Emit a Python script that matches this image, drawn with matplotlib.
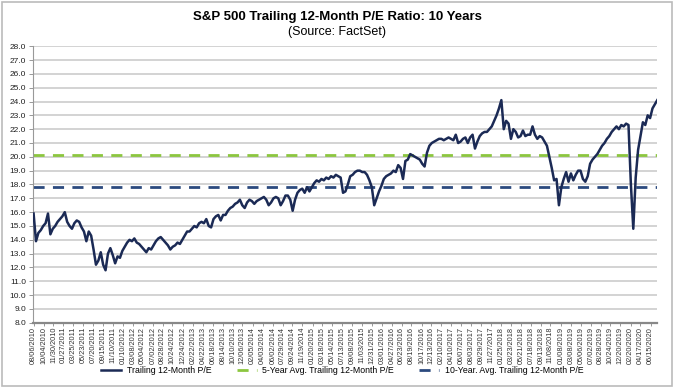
import matplotlib
matplotlib.use("Agg")
import matplotlib.pyplot as plt
import matplotlib.patches as mpatches
import pandas as pd

plt.rcParams["font.family"] = ["Liberation Sans", "DejaVu Sans"]

# trailing 12-month P/E, read every 14 days starting 2010-08-06
start_date = "2010-08-06"
pe = [
    15.9, 13.9, 14.5, 14.7, 15.0, 15.2, 15.9, 14.4, 14.8, 15.0,
    15.3, 15.5, 15.7, 16.0, 15.3, 15.0, 14.8, 15.2, 15.4, 15.3,
    14.9, 14.6, 13.9, 14.6, 14.3, 13.3, 12.2, 12.5, 13.1, 12.2,
    11.8, 13.0, 13.4, 12.9, 12.3, 12.8, 12.7, 13.2, 13.5, 13.8,
    14.0, 13.9, 14.1, 13.8, 13.7, 13.5, 13.3, 13.1, 13.4, 13.3,
    13.6, 13.9, 14.1, 14.2, 14.0, 13.8, 13.6, 13.3, 13.5, 13.6,
    13.8, 13.7, 14.0, 14.3, 14.6, 14.6, 14.8, 15.0, 14.9, 15.2,
    15.3, 15.2, 15.5, 15.0, 14.9, 15.5, 15.7, 15.8, 15.4, 15.8,
    15.8, 16.1, 16.3, 16.4, 16.6, 16.7, 16.9, 16.5, 16.3, 16.7,
    16.9, 16.8, 16.6, 16.8, 16.9, 17.0, 17.1, 16.9, 16.5, 16.7,
    17.0, 17.1, 17.0, 16.5, 16.8, 17.2, 17.2, 16.9, 16.1, 16.9,
    17.4, 17.6, 17.7, 17.4, 17.8, 17.5, 17.8, 18.1, 18.3, 18.2,
    18.4, 18.3, 18.5, 18.4, 18.6, 18.5, 18.7, 18.6, 18.5, 17.4,
    17.5, 18.0, 18.6, 18.7, 18.9, 19.0, 19.0, 18.9, 18.9, 18.7,
    18.3, 17.8, 16.5, 17.0, 17.5, 17.9, 18.4, 18.6, 18.7, 18.8,
    19.0, 18.9, 19.4, 19.2, 18.4, 19.7, 19.8, 20.2, 20.1, 20.0,
    19.9, 19.8, 19.5, 19.3, 20.3, 20.8, 21.0, 21.1, 21.2, 21.3,
    21.3, 21.2, 21.3, 21.4, 21.3, 21.2, 21.6, 21.0, 21.1, 21.3,
    21.4, 21.0, 21.4, 21.6, 20.6, 21.1, 21.5, 21.7, 21.8, 21.8,
    22.0, 22.2, 22.6, 23.0, 23.5, 24.1, 22.0, 22.6, 22.4, 21.3,
    22.0, 21.8, 21.4, 21.5, 21.9, 21.5, 21.6, 21.6, 22.2, 21.6,
    21.3, 21.5, 21.4, 21.1, 20.8, 20.0, 19.2, 18.3, 18.4, 16.5,
    17.8, 18.4, 18.9, 18.2, 18.8, 18.3, 18.7, 19.0, 19.0, 18.4,
    18.2, 18.6, 19.5, 19.8, 20.0, 20.2, 20.5, 20.8, 21.0, 21.3,
    21.5, 21.8, 22.0, 22.2, 22.0, 22.3, 22.2, 22.4, 22.3, 18.0,
    14.8, 18.5, 20.5, 21.5, 22.5, 22.3, 23.0, 22.8, 23.5, 23.8,
    24.1,
]
avg_5yr = 20.1
avg_10yr = 17.8

tick_labels = [
    "08/06/2010", "10/04/2010", "11/30/2010", "01/27/2011", "03/25/2011",
    "05/23/2011", "07/20/2011", "09/15/2011", "11/10/2011", "01/10/2012",
    "03/08/2012", "05/04/2012", "07/02/2012", "08/28/2012", "10/24/2012",
    "12/24/2012", "02/22/2013", "04/22/2013", "06/18/2013", "08/14/2013",
    "10/10/2013", "12/06/2013", "02/05/2014", "04/03/2014", "06/02/2014",
    "07/29/2014", "09/24/2014", "11/19/2014", "01/20/2015", "03/18/2015",
    "05/14/2015", "07/13/2015", "09/08/2015", "11/03/2015", "12/31/2015",
    "03/01/2016", "04/27/2016", "06/23/2016", "08/19/2016", "10/17/2016",
    "12/13/2016", "02/10/2017", "04/10/2017", "06/07/2017", "08/03/2017",
    "09/29/2017", "11/27/2017", "01/25/2018", "03/23/2018", "05/21/2018",
    "07/18/2018", "09/13/2018", "11/08/2018", "01/08/2019", "03/08/2019",
    "05/06/2019", "07/02/2019", "08/28/2019", "10/24/2019", "12/20/2019",
    "02/20/2020", "04/17/2020", "06/15/2020",
]
y_ticks = [8.0 + i for i in range(21)]

dates = pd.date_range(start_date, periods=len(pe), freq="14D")
tick_dates = pd.to_datetime(tick_labels, format="%m/%d/%Y")

fig = plt.figure(figsize=(6.75, 3.88), dpi=100)
ax = fig.add_axes([0.049, 0.168, 0.925, 0.713])

ax.plot(dates, pe, color="#1b2a55", lw=1.8, label="Trailing 12-Month P/E", zorder=3)
ax.axhline(avg_5yr, color="#8cc63f", lw=2, ls=(0, (4, 3)),
           label="5-Year Avg. Trailing 12-Month P/E", zorder=2)
ax.axhline(avg_10yr, color="#2b4a7e", lw=2, ls=(0, (4, 3)),
           label="10-Year. Avg. Trailing 12-Month P/E", zorder=2)

ax.set_ylim(8, 28)
ax.set_yticks(y_ticks)
ax.set_yticklabels([f"{v:.1f}" for v in y_ticks], fontsize=6, color="#222222")
ax.set_xlim(dates[0] - pd.Timedelta(days=3), dates[-1] + pd.Timedelta(days=1))
ax.set_xticks(tick_dates)
ax.set_xticklabels(tick_labels, rotation=90, fontsize=5.3, color="#333333")
ax.tick_params(axis="y", length=3, width=0.6, color="#888888", pad=2)
ax.tick_params(axis="x", length=2, width=0.6, color="#888888", pad=1)

ax.grid(axis="y", color="#c8c8c8", lw=1.1)
ax.set_axisbelow(True)
for side in ("top", "right"):
    ax.spines[side].set_visible(False)
ax.spines["left"].set_color("#999999")
ax.spines["left"].set_linewidth(0.8)
ax.spines["bottom"].set_color("#888888")
ax.spines["bottom"].set_linewidth(1.6)

fig.text(0.5, 0.955, "S&P 500 Trailing 12-Month P/E Ratio: 10 Years",
         ha="center", va="center", fontsize=9.5, fontweight="bold")
fig.text(0.5, 0.918, "(Source: FactSet)", ha="center", va="center", fontsize=9)

handles, labels = ax.get_legend_handles_labels()
fig.legend(handles, labels, loc="center", bbox_to_anchor=(0.507, 0.045), ncol=3,
           frameon=False, fontsize=6.3, handlelength=2.3, columnspacing=2.9,
           handletextpad=0.6)

fig.patches.append(mpatches.Rectangle((0.003, 0.005), 0.993, 0.99, transform=fig.transFigure,
                                      fill=False, edgecolor="#bbbbbb", lw=1.2))

fig.savefig("out.png", dpi=100)
